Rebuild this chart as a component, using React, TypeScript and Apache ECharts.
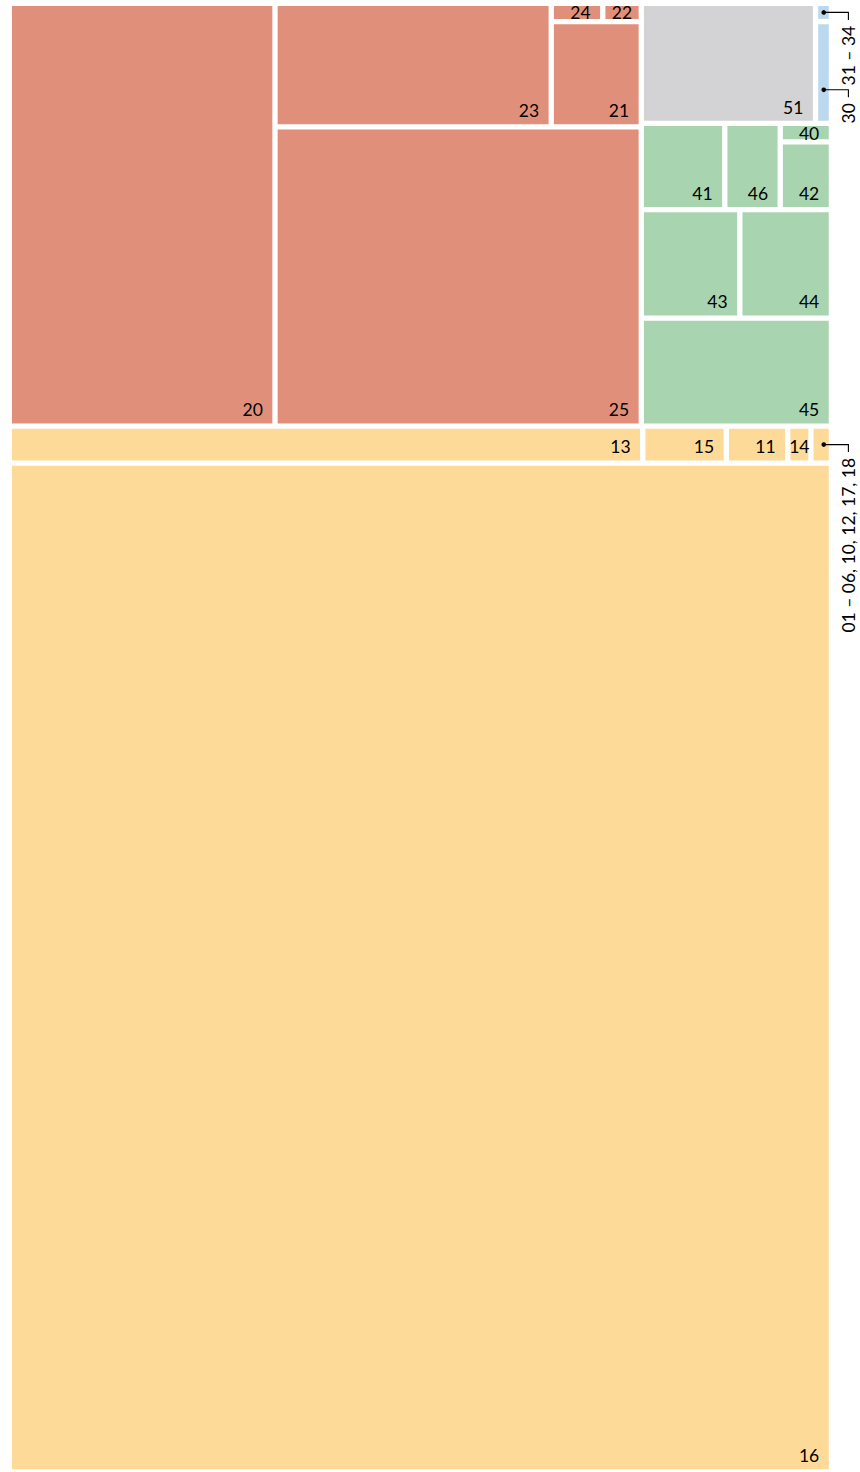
import React, { useEffect, useRef } from "react";
import * as echarts from "echarts";

// ---- Data ----
const groupNames = ["01–18", "20–25", "40–46", "51", "30–34"];

const yellowCodes = ["16", "13", "15", "11", "14", "01 – 06, 10, 12, 17, 18"];
const yellowValues = [83070, 2350, 310, 228, 86, 76];

const redCodes = ["20", "25", "23", "21", "24", "22"];
const redValues = [11250, 10978, 3418, 948, 95, 71];

const greenCodes = ["45", "43", "44", "41", "46", "42", "40"];
const greenValues = [2057, 1069, 994, 721, 479, 348, 94];

const greyCodes = ["51"];
const greyValues = [2097];

const blueCodes = ["30", "31 – 34"];
const blueValues = [162, 29];

// cells whose label is drawn outside, with a leader line
const outsideLabelCodes = ["01 – 06, 10, 12, 17, 18", "31 – 34", "30"];

// ---- Styles / layout constants ----
const groupColors = ["#FEDA98", "#E0907A", "#A8D5AF", "#D3D3D5", "#BBD8EE"];
const GRID_LEFT = 9.3;
const GRID_TOP = 3.3;
const GRID_W = 822.1;
const GRID_H = 1471;
const PAD = 2.65;
const FONT = "Lato, 'Noto Sans', sans-serif";
const FONT_SIZE = 17.5;
const TEXT_COLOR = "#000000";

type R = { x: number; y: number; dx: number; dy: number };

const sum = (a: number[]) => a.reduce((s, v) => s + v, 0);

function layoutRow(sizes: number[], x: number, y: number, dx: number, dy: number): R[] {
  const width = sum(sizes) / dy;
  let yy = y;
  return sizes.map((s) => {
    const r = { x, y: yy, dx: width, dy: s / width };
    yy += s / width;
    return r;
  });
}
function layoutCol(sizes: number[], x: number, y: number, dx: number, dy: number): R[] {
  const height = sum(sizes) / dx;
  let xx = x;
  return sizes.map((s) => {
    const r = { x: xx, y, dx: s / height, dy: height };
    xx += s / height;
    return r;
  });
}
function layout(sizes: number[], x: number, y: number, dx: number, dy: number): R[] {
  return dx >= dy ? layoutRow(sizes, x, y, dx, dy) : layoutCol(sizes, x, y, dx, dy);
}
function leftover(sizes: number[], x: number, y: number, dx: number, dy: number): number[] {
  const c = sum(sizes);
  if (dx >= dy) {
    const w = c / dy;
    return [x + w, y, dx - w, dy];
  }
  const h = c / dx;
  return [x, y + h, dx, dy - h];
}
function worst(sizes: number[], x: number, y: number, dx: number, dy: number): number {
  return Math.max(...layout(sizes, x, y, dx, dy).map((r) => Math.max(r.dx / r.dy, r.dy / r.dx)));
}
function squarify(sizes: number[], x: number, y: number, dx: number, dy: number): R[] {
  if (sizes.length === 0) return [];
  if (sizes.length === 1) return layout(sizes, x, y, dx, dy);
  let i = 1;
  while (i < sizes.length && worst(sizes.slice(0, i), x, y, dx, dy) >= worst(sizes.slice(0, i + 1), x, y, dx, dy)) i++;
  const current = sizes.slice(0, i);
  const remaining = sizes.slice(i);
  const [lx, ly, ldx, ldy] = leftover(current, x, y, dx, dy);
  return layout(current, x, y, dx, dy).concat(squarify(remaining, lx, ly, ldx, ldy));
}
function normalize(sizes: number[], dx: number, dy: number): number[] {
  const t = sum(sizes);
  return sizes.map((s) => (s * dx * dy) / t);
}

function buildCells() {
  const groups = [
    { codes: yellowCodes, values: yellowValues },
    { codes: redCodes, values: redValues },
    { codes: greenCodes, values: greenValues },
    { codes: greyCodes, values: greyValues },
    { codes: blueCodes, values: blueValues },
  ];
  const totals = groups.map((g) => sum(g.values));
  const groupRects = squarify(normalize(totals, GRID_W, GRID_H), 0, 0, GRID_W, GRID_H);
  const data: number[][] = [];
  const codes: string[] = [];
  groups.forEach((g, gi) => {
    const r = groupRects[gi];
    const leaves = squarify(normalize(g.values, r.dx, r.dy), r.x, r.y, r.dx, r.dy);
    leaves.forEach((lr, li) => {
      data.push([lr.x, lr.y, lr.x + lr.dx, lr.y + lr.dy, gi, g.values[li]]);
      codes.push(g.codes[li]);
    });
  });
  return { data, codes };
}

export default function App() {
  const ref = useRef<HTMLDivElement>(null);
  useEffect(() => {
    if (!ref.current) return;
    const chart = echarts.init(ref.current, undefined, { renderer: "svg" });
    const { data, codes } = buildCells();

    const renderItem = (params: any, api: any) => {
      const p0 = api.coord([api.value(0), api.value(1)]);
      const p1 = api.coord([api.value(2), api.value(3)]);
      const gi = api.value(4);
      const left = Math.min(p0[0], p1[0]) + PAD;
      const right = Math.max(p0[0], p1[0]) - PAD;
      const top = Math.min(p0[1], p1[1]) + PAD;
      const bottom = Math.max(p0[1], p1[1]) - PAD;
      const code = codes[params.dataIndex];
      const children: any[] = [
        {
          type: "rect",
          shape: { x: left, y: top, width: right - left, height: bottom - top },
          style: { fill: groupColors[gi] },
        },
      ];
      const fontStr = `${FONT_SIZE}px ${FONT}`;
      if (outsideLabelCodes.indexOf(code) >= 0) {
        const cy = (top + bottom) / 2;
        const dotX = right - 5;
        const dotY = Math.max(cy, bottom - 31);
        const lineX = GRID_LEFT + GRID_W + 17;
        children.push({
          type: "polyline",
          shape: { points: [[dotX, dotY], [lineX, dotY], [lineX, dotY + 7.5]] },
          style: { stroke: "#000", lineWidth: 1.1, fill: "none" },
        });
        children.push({
          type: "circle",
          shape: { cx: dotX, cy: dotY, r: 2.3 },
          style: { fill: "#000" },
        });
        children.push({
          type: "text",
          x: lineX,
          y: dotY + 13.3,
          rotation: Math.PI / 2,
          style: {
            text: code,
            font: fontStr,
            fill: TEXT_COLOR,
            align: "right",
            verticalAlign: "middle",
          },
        });
      } else {
        const w = right - left;
        const centered = w < 40;
        const tx = centered ? (left + right) / 2 : right - 9.5;
        const ty = Math.max(bottom - 13.5, top + 7);
        children.push({
          type: "text",
          x: tx,
          y: ty,
          style: {
            text: code,
            font: fontStr,
            fill: TEXT_COLOR,
            align: centered ? "center" : "right",
            verticalAlign: "middle",
          },
        });
      }
      return { type: "group", children };
    };

    chart.setOption({
      animation: false,
      grid: { left: GRID_LEFT, top: GRID_TOP, width: GRID_W, height: GRID_H },
      xAxis: { type: "value", min: 0, max: GRID_W, show: false },
      yAxis: { type: "value", min: 0, max: GRID_H, show: false },
      tooltip: { show: false },
      series: [
        {
          type: "custom",
          name: groupNames.join(", "),
          renderItem,
          data,
          encode: { x: [0, 2], y: [1, 3] },
          clip: false,
          silent: true,
        },
      ],
    });
    return () => chart.dispose();
  }, []);
  return (
    <div
      ref={ref}
      style={{ position: "absolute", left: 0, top: 0, width: 860, height: 1472 }}
    />
  );
}
